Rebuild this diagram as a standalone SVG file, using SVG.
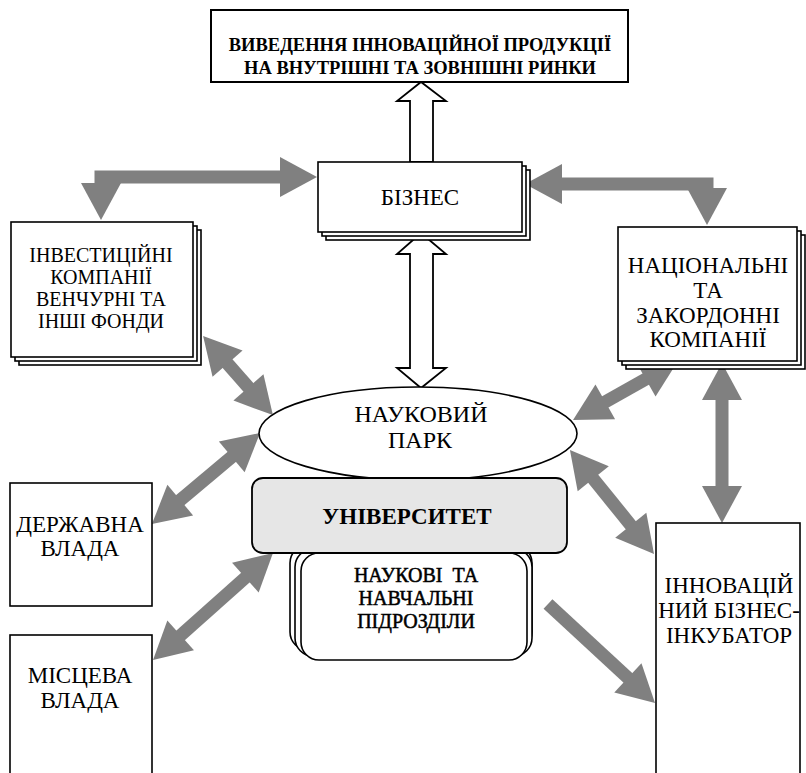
<svg xmlns="http://www.w3.org/2000/svg" width="806" height="773" viewBox="0 0 806 773">
<defs>
<marker id="h" markerUnits="userSpaceOnUse" markerWidth="37" markerHeight="40" viewBox="0 0 37 40" refX="1" refY="20" orient="auto-start-reverse" overflow="visible">
<path d="M0,0 L37,20 L0,40 z" fill="#808080"/>
</marker>
</defs>
<rect width="806" height="773" fill="#fff"/>

<g id="connectors" fill="none" stroke="#808080" stroke-width="13">
<polygon fill="#fff" stroke="#000" stroke-width="1.8" points="410,162 410,101 397,101 421,82 446,101 433,101 433,162"/>
<polygon fill="#fff" stroke="#000" stroke-width="1.8" points="421,233 446,254 433,254 433,368 446,368 421,388 397,368 410,368 410,254 397,254"/>
<polyline points="101,184 101,177 281,177" marker-start="url(#h)" marker-end="url(#h)"/>
<polyline points="561,184 707,184 707,189" marker-start="url(#h)" marker-end="url(#h)"/>
<line x1="226.9" y1="362.9" x2="249.1" y2="388.1" marker-start="url(#h)" marker-end="url(#h)"/>
<line x1="232.5" y1="456.2" x2="179.5" y2="500.8" marker-start="url(#h)" marker-end="url(#h)"/>
<line x1="246.1" y1="577" x2="179.9" y2="636" marker-start="url(#h)" marker-end="url(#h)"/>
<line x1="646.6" y1="378.6" x2="604.4" y2="402.4" marker-start="url(#h)" marker-end="url(#h)"/>
<line x1="722" y1="399" x2="722" y2="487" marker-start="url(#h)" marker-end="url(#h)"/>
<line x1="592.6" y1="478" x2="631.4" y2="526" marker-start="url(#h)" marker-end="url(#h)"/>
<line x1="548" y1="604" x2="628.6" y2="678.6" marker-end="url(#h)"/>
</g>

<g id="market" fill="#fff" stroke="#000" stroke-width="1.6">
<rect x="211" y="10" width="417" height="72" stroke-width="2"/>
<text x="420" y="51" fill="#000" stroke="none" text-anchor="middle" font-size="18.5" font-family="Liberation Serif" font-weight="bold">ВИВЕДЕННЯ ІННОВАЦІЙНОЇ ПРОДУКЦІЇ</text>
<text x="420" y="74" fill="#000" stroke="none" text-anchor="middle" font-size="18.5" font-family="Liberation Serif" font-weight="bold">НА ВНУТРІШНІ ТА ЗОВНІШНІ РИНКИ</text>
</g>

<g id="business" fill="#fff" stroke="#000" stroke-width="1.6">
<rect x="326" y="170" width="204" height="70"/>
<rect x="322" y="166" width="204" height="70"/>
<rect x="318" y="162" width="204" height="70"/>
<text x="420" y="205" fill="#000" stroke="none" text-anchor="middle" font-size="23" font-family="Liberation Serif">БІЗНЕС</text>
</g>

<g id="investment" fill="#fff" stroke="#000" stroke-width="1.6">
<rect x="19" y="230" width="182" height="135"/>
<rect x="15" y="226" width="182" height="135"/>
<rect x="11" y="222" width="182" height="135"/>
<g fill="#000" stroke="none" text-anchor="middle" font-size="20" font-family="Liberation Serif">
<text x="101" y="262">ІНВЕСТИЦІЙНІ</text>
<text x="101" y="284">КОМПАНІЇ</text>
<text x="101" y="306">ВЕНЧУРНІ ТА</text>
<text x="101" y="328">ІНШІ ФОНДИ</text>
</g>
</g>

<g id="national" fill="#fff" stroke="#000" stroke-width="1.6">
<rect x="626" y="235" width="179" height="134"/>
<rect x="622" y="231" width="179" height="134"/>
<rect x="618" y="227" width="179" height="134"/>
<g fill="#000" stroke="none" text-anchor="middle" font-size="23" font-family="Liberation Serif">
<text x="708" y="273">НАЦІОНАЛЬНІ</text>
<text x="708" y="298">ТА</text>
<text x="708" y="323">ЗАКОРДОННІ</text>
<text x="708" y="347">КОМПАНІЇ</text>
</g>
</g>

<g id="park" fill="#fff" stroke="#000" stroke-width="1.6">
<ellipse cx="418" cy="433.5" rx="159" ry="46.5"/>
<g fill="#000" stroke="none" text-anchor="middle" font-size="24" font-family="Liberation Serif">
<text x="421" y="422">НАУКОВИЙ</text>
<text x="420" y="448">ПАРК</text>
</g>
</g>

<g id="subunits" fill="#fff" stroke="#000" stroke-width="1.6">
<rect x="290" y="545" width="242" height="105" rx="18"/>
<rect x="295" y="549" width="237" height="107" rx="18"/>
<rect x="301" y="553" width="226" height="107" rx="18"/>
<g fill="#000" stroke="#000" stroke-width="0.5" text-anchor="middle" font-size="20" font-family="Liberation Serif">
<text x="416" y="582">НАУКОВІ&#160; ТА</text>
<text x="416" y="605">НАВЧАЛЬНІ</text>
<text x="416" y="628">ПІДРОЗДІЛИ</text>
</g>
</g>

<g id="university">
<rect x="252" y="478" width="315" height="75" rx="11" fill="#e6e6e6" stroke="#000" stroke-width="1.8"/>
<text x="407" y="524" fill="#000" text-anchor="middle" font-size="23" font-family="Liberation Serif" font-weight="bold">УНІВЕРСИТЕТ</text>
</g>

<g id="state" fill="#fff" stroke="#000" stroke-width="1.6">
<rect x="10" y="483" width="142" height="123"/>
<g fill="#000" stroke="none" text-anchor="middle" font-size="23" font-family="Liberation Serif">
<text x="80" y="532">ДЕРЖАВНА</text>
<text x="80" y="556">ВЛАДА</text>
</g>
</g>

<g id="local" fill="#fff" stroke="#000" stroke-width="1.6">
<rect x="10" y="635" width="142" height="150"/>
<g fill="#000" stroke="none" text-anchor="middle" font-size="23" font-family="Liberation Serif">
<text x="80" y="683">МІСЦЕВА</text>
<text x="80" y="708">ВЛАДА</text>
</g>
</g>

<g id="incubator" fill="#fff" stroke="#000" stroke-width="1.6">
<rect x="656" y="523" width="144" height="262"/>
<g fill="#000" stroke="none" text-anchor="middle" font-size="23" font-family="Liberation Serif">
<text x="729" y="593">ІННОВАЦІЙ</text>
<text x="729" y="618">НИЙ БІЗНЕС-</text>
<text x="729" y="643">ІНКУБАТОР</text>
</g>
</g>
</svg>
